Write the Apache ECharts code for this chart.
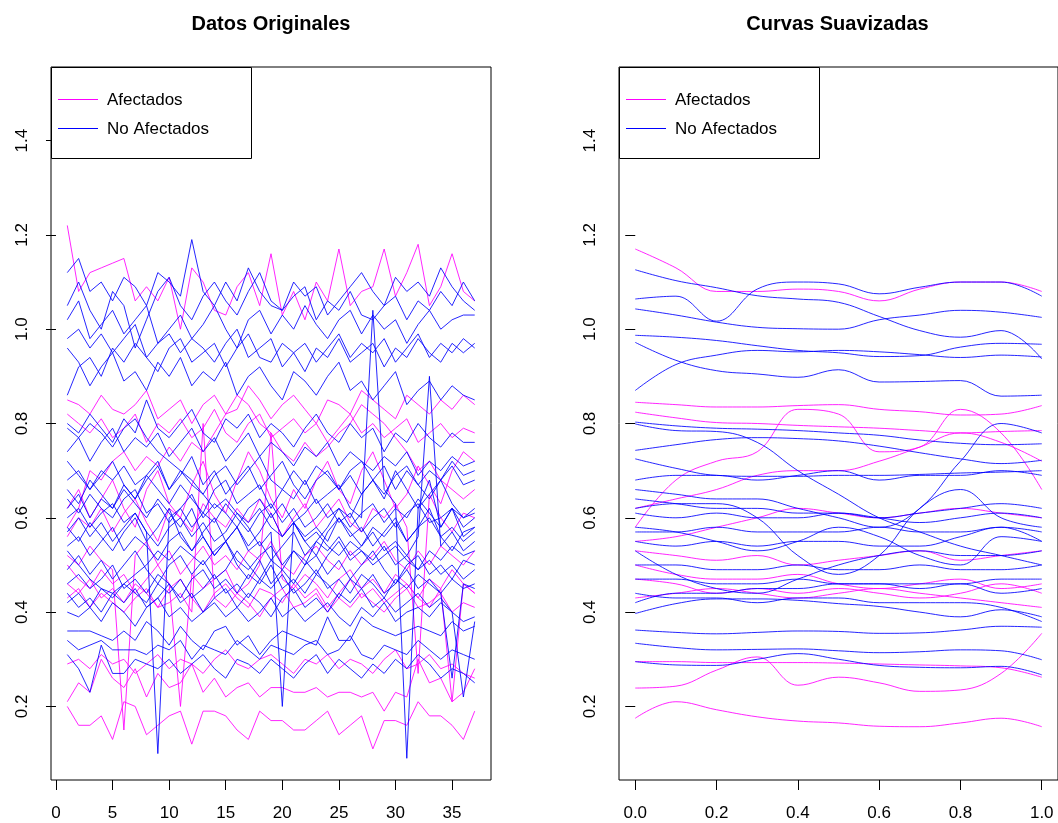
<!DOCTYPE html>
<html><head><meta charset="utf-8">
<script src="https://cdn.jsdelivr.net/npm/echarts@6/dist/echarts.min.js"></script>
<style>html,body{margin:0;padding:0;background:#fff}#c{width:1058px;height:823px}</style>
</head><body><div id="c"></div><script>
// ---- axes / ticks ----
const xOrig = [1,2,3,4,5,6,7,8,9,10,11,12,13,14,15,16,17,18,19,20,21,22,23,24,25,26,27,28,29,30,31,32,33,34,35,36,37];
const tSmooth = [0,0.1,0.2,0.3,0.4,0.5,0.6,0.7,0.8,0.9,1.0];
const xTicksLeft = [0,5,10,15,20,25,30,35];
const xTicksRight = [0,0.2,0.4,0.6,0.8,1.0];
const yTicks = [0.2,0.4,0.6,0.8,1.0,1.2,1.4];
const titles = ['Datos Originales','Curvas Suavizadas'];
const legendNames = ['Afectados','No Afectados'];

// ---- Datos Originales: Afectados (magenta) ----
const oA01 = [1.22,1.08,1.12,1.13,1.14,1.15,1.06,1.09,1.06,1.11,1.00,1.13,1.10,1.04,1.03,1.09,1.12,1.05,1.16,1.03,1.08,1.02,1.10,1.06,1.17,1.05,1.08,1.09,1.17,1.07,1.12,1.18,1.05,1.09,1.16,1.08,1.06];
const oA02 = [0.85,0.84,0.82,0.86,0.83,0.82,0.84,0.87,0.81,0.83,0.85,0.80,0.84,0.86,0.82,0.83,0.88,0.85,0.81,0.84,0.86,0.83,0.80,0.85,0.84,0.82,0.87,0.85,0.83,0.81,0.86,0.84,0.82,0.85,0.83,0.86,0.84];
const oA03 = [0.82,0.80,0.78,0.81,0.77,0.79,0.82,0.76,0.80,0.78,0.81,0.77,0.79,0.83,0.78,0.76,0.80,0.82,0.77,0.79,0.81,0.78,0.80,0.76,0.79,0.82,0.78,0.80,0.77,0.79,0.81,0.76,0.78,0.80,0.77,0.79,0.78];
const oA04 = [0.58,0.62,0.70,0.68,0.72,0.74,0.70,0.73,0.71,0.75,0.72,0.76,0.74,0.78,0.82,0.86,0.84,0.80,0.78,0.74,0.72,0.76,0.73,0.75,0.78,0.80,0.84,0.82,0.80,0.77,0.74,0.70,0.72,0.68,0.66,0.64,0.66];
const oA05 = [0.62,0.66,0.60,0.64,0.68,0.62,0.58,0.66,0.70,0.63,0.60,0.67,0.72,0.65,0.61,0.68,0.74,0.70,0.64,0.60,0.66,0.62,0.68,0.72,0.66,0.63,0.70,0.74,0.68,0.62,0.65,0.71,0.67,0.63,0.70,0.74,0.72];
const oA06 = [0.56,0.60,0.58,0.62,0.57,0.61,0.64,0.59,0.55,0.62,0.60,0.57,0.63,0.60,0.58,0.62,0.59,0.64,0.61,0.56,0.60,0.63,0.58,0.61,0.64,0.59,0.57,0.62,0.60,0.63,0.58,0.27,0.65,0.60,0.57,0.61,0.60];
const oA07 = [0.52,0.50,0.54,0.51,0.49,0.15,0.52,0.55,0.50,0.53,0.48,0.51,0.54,0.50,0.52,0.49,0.53,0.51,0.55,0.50,0.48,0.52,0.54,0.51,0.49,0.53,0.50,0.52,0.55,0.51,0.49,0.53,0.50,0.54,0.52,0.50,0.53];
const oA08 = [0.50,0.47,0.45,0.49,0.46,0.48,0.44,0.47,0.50,0.46,0.20,0.48,0.45,0.47,0.49,0.44,0.46,0.50,0.78,0.47,0.45,0.48,0.46,0.43,0.47,0.49,0.45,0.47,0.44,0.48,0.46,0.43,0.47,0.45,0.49,0.46,0.44];
const oA09 = [0.46,0.44,0.47,0.43,0.45,0.42,0.46,0.44,0.41,0.45,0.47,0.43,0.40,0.44,0.46,0.43,0.41,0.45,0.44,0.42,0.46,0.43,0.45,0.41,0.44,0.47,0.43,0.45,0.42,0.44,0.46,0.43,0.41,0.45,0.21,0.46,0.44];
const oA10 = [0.43,0.45,0.41,0.44,0.42,0.40,0.43,0.45,0.41,0.42,0.44,0.40,0.80,0.43,0.41,0.44,0.42,0.39,0.43,0.45,0.41,0.42,0.44,0.40,0.43,0.41,0.44,0.42,0.40,0.43,0.45,0.41,0.42,0.44,0.40,0.42,0.41];
const oA11 = [0.29,0.30,0.28,0.31,0.29,0.30,0.27,0.29,0.31,0.28,0.30,0.29,0.27,0.30,0.32,0.29,0.28,0.30,0.31,0.29,0.27,0.30,0.29,0.31,0.28,0.30,0.29,0.27,0.30,0.32,0.28,0.29,0.31,0.28,0.29,0.27,0.26];
const oA12 = [0.21,0.25,0.23,0.30,0.26,0.24,0.28,0.22,0.27,0.24,0.25,0.29,0.23,0.26,0.22,0.24,0.25,0.22,0.24,0.24,0.23,0.23,0.24,0.22,0.23,0.23,0.22,0.23,0.19,0.23,0.22,0.30,0.25,0.26,0.21,0.23,0.28];
const oA13 = [0.20,0.16,0.16,0.18,0.13,0.21,0.20,0.14,0.16,0.18,0.19,0.12,0.19,0.19,0.18,0.15,0.13,0.19,0.17,0.17,0.15,0.15,0.17,0.19,0.14,0.16,0.18,0.11,0.17,0.17,0.16,0.21,0.18,0.18,0.16,0.13,0.19];

// ---- Datos Originales: No Afectados (blue) ----
const oN01 = [1.12,1.15,1.08,1.10,1.06,1.11,1.09,1.05,1.12,1.10,1.07,1.19,1.08,1.05,1.10,1.06,1.13,1.08,1.05,1.04,1.07,1.09,1.02,1.06,1.04,1.08,1.03,1.02,1.05,1.07,1.02,1.06,1.04,1.08,1.05,1.10,1.06];
const oN02 = [1.05,1.10,1.04,1.00,1.08,1.05,0.96,1.02,1.08,1.11,1.05,1.02,1.07,1.10,1.06,1.03,1.08,1.12,1.06,1.04,1.10,1.07,1.09,1.03,1.06,1.09,1.12,1.08,1.05,1.11,1.08,1.10,1.07,1.13,1.09,1.06,1.04];
const oN03 = [1.02,1.06,0.98,1.01,1.04,0.99,1.02,1.05,0.97,1.00,1.03,0.98,1.01,1.05,1.00,0.96,1.02,1.04,0.99,1.03,1.00,1.05,1.01,0.98,1.02,1.04,0.99,1.03,1.00,1.02,0.97,1.01,1.04,1.00,1.02,1.03,1.03];
const oN04 = [0.98,1.00,0.96,0.99,0.95,0.98,1.01,0.94,0.97,0.99,0.95,0.98,0.96,0.93,0.97,1.00,0.94,0.96,0.98,0.92,0.95,0.97,0.93,0.96,0.99,0.94,0.97,0.95,0.98,0.93,0.96,0.99,0.94,0.97,0.95,0.98,0.96];
const oN05 = [0.96,0.93,0.88,0.92,0.95,0.89,0.91,0.87,0.93,0.90,0.94,0.88,0.91,0.89,0.93,0.86,0.90,0.92,0.88,0.85,0.91,0.89,0.86,0.90,0.93,0.87,0.89,0.85,0.88,0.91,0.84,0.87,0.89,0.85,0.88,0.86,0.85];
const oN06 = [0.86,0.92,0.94,0.90,0.96,0.93,0.97,0.94,0.91,0.96,0.98,0.93,0.95,0.97,0.92,0.96,0.99,0.94,0.93,0.97,0.95,0.91,0.96,0.94,0.98,0.93,0.95,0.97,0.92,0.96,0.94,0.98,0.95,0.93,0.97,0.95,0.97];
const oN07 = [0.80,0.78,0.82,0.79,0.76,0.81,0.78,0.85,0.79,0.77,0.80,0.83,0.78,0.76,0.81,0.79,0.82,0.77,0.80,0.78,0.75,0.79,0.82,0.78,0.76,0.80,0.77,0.79,0.74,0.78,0.76,0.80,0.77,0.75,0.78,0.76,0.76];
const oN08 = [0.79,0.77,0.80,0.78,0.75,0.79,0.81,0.77,0.74,0.72,0.70,0.67,0.65,0.62,0.64,0.61,0.59,0.62,0.58,0.56,0.59,0.55,0.57,0.54,0.52,0.55,0.53,0.51,0.54,0.50,0.52,0.49,0.51,0.48,0.50,0.47,0.49];
const oN09 = [0.74,0.77,0.72,0.76,0.79,0.74,0.77,0.75,0.78,0.73,0.76,0.79,0.74,0.77,0.72,0.75,0.78,0.73,0.76,0.74,0.71,0.75,0.73,0.76,0.71,0.74,0.72,0.70,0.73,0.71,0.74,0.69,0.72,0.70,0.73,0.71,0.72];
const oN10 = [0.72,0.69,0.66,0.70,0.68,0.71,0.67,0.69,0.72,0.66,0.70,0.68,0.65,0.69,0.71,0.67,0.70,0.73,0.68,0.66,0.70,0.67,0.71,0.69,0.66,0.70,0.72,0.68,0.65,0.69,0.71,0.67,0.70,0.68,0.72,0.69,0.70];
const oN11 = [0.66,0.63,0.68,0.65,0.62,0.67,0.64,0.69,0.66,0.63,0.67,0.64,0.61,0.66,0.68,0.63,0.65,0.67,0.62,0.66,0.64,0.68,0.63,0.65,0.67,0.62,0.60,1.04,0.66,0.63,0.09,0.62,0.65,0.68,0.63,0.60,0.62];
const oN12 = [0.64,0.61,0.65,0.62,0.60,0.64,0.66,0.61,0.63,0.59,0.62,0.65,0.60,0.63,0.61,0.58,0.62,0.64,0.60,0.63,0.59,0.61,0.64,0.60,0.62,0.58,0.61,0.63,0.59,0.62,0.60,0.64,0.61,0.58,0.62,0.60,0.61];
const oN13 = [0.60,0.62,0.58,0.61,0.63,0.59,0.61,0.57,0.10,0.60,0.62,0.58,0.61,0.59,0.63,0.60,0.57,0.61,0.63,0.59,0.62,0.58,0.60,0.63,0.59,0.61,0.57,0.60,0.62,0.58,0.61,0.63,0.59,0.60,0.62,0.58,0.60];
const oN14 = [0.57,0.60,0.56,0.59,0.55,0.58,0.61,0.57,0.54,0.58,0.60,0.56,0.59,0.55,0.57,0.61,0.58,0.54,0.57,0.20,0.59,0.56,0.58,0.55,0.60,0.57,0.54,0.58,0.56,0.59,0.55,0.58,0.60,0.56,0.58,0.55,0.57];
const oN15 = [0.54,0.56,0.52,0.55,0.58,0.53,0.56,0.54,0.51,0.55,0.57,0.53,0.56,0.52,0.55,0.58,0.53,0.55,0.51,0.54,0.57,0.52,0.55,0.53,0.56,0.52,0.54,0.57,0.53,0.55,0.52,0.56,0.90,0.54,0.57,0.53,0.55];
const oN16 = [0.53,0.50,0.47,0.45,0.44,0.46,0.48,0.50,0.53,0.51,0.54,0.52,0.50,0.53,0.55,0.51,0.49,0.52,0.54,0.50,0.53,0.51,0.48,0.52,0.55,0.51,0.53,0.50,0.52,0.54,0.51,0.49,0.53,0.51,0.54,0.52,0.53];
const oN17 = [0.49,0.52,0.48,0.51,0.47,0.50,0.53,0.49,0.46,0.50,0.52,0.48,0.51,0.47,0.49,0.53,0.50,0.47,0.51,0.49,0.46,0.50,0.52,0.48,0.51,0.47,0.50,0.53,0.49,0.46,0.50,0.52,0.48,0.50,0.47,0.51,0.50];
const oN18 = [0.46,0.48,0.45,0.47,0.50,0.45,0.47,0.44,0.48,0.46,0.43,0.47,0.49,0.45,0.47,0.44,0.48,0.46,0.50,0.45,0.47,0.44,0.48,0.46,0.43,0.47,0.45,0.48,0.44,0.46,0.49,0.45,0.47,0.44,0.26,0.46,0.45];
const oN19 = [0.42,0.44,0.41,0.45,0.43,0.46,0.44,0.42,0.46,0.44,0.47,0.43,0.45,0.48,0.44,0.46,0.43,0.47,0.45,0.48,0.44,0.46,0.49,0.45,0.47,0.44,0.48,0.46,0.43,0.47,0.45,0.48,0.46,0.44,0.47,0.45,0.46];
const oN20 = [0.44,0.41,0.43,0.40,0.44,0.42,0.45,0.41,0.43,0.46,0.42,0.44,0.40,0.43,0.45,0.41,0.44,0.42,0.39,0.43,0.45,0.41,0.43,0.40,0.44,0.42,0.45,0.41,0.43,0.40,0.42,0.44,0.41,0.43,0.40,0.22,0.38];
const oN21 = [0.40,0.39,0.41,0.38,0.42,0.40,0.37,0.41,0.43,0.39,0.41,0.38,0.40,0.42,0.39,0.41,0.38,0.40,0.43,0.39,0.41,0.38,0.40,0.42,0.39,0.37,0.41,0.39,0.42,0.38,0.40,0.41,0.39,0.42,0.40,0.38,0.39];
const oN22 = [0.36,0.36,0.36,0.35,0.34,0.36,0.34,0.38,0.36,0.33,0.37,0.34,0.32,0.36,0.37,0.33,0.35,0.31,0.34,0.36,0.35,0.34,0.33,0.39,0.34,0.34,0.39,0.37,0.36,0.35,0.36,0.37,0.36,0.35,0.38,0.36,0.37];
const oN23 = [0.34,0.32,0.33,0.34,0.32,0.32,0.32,0.31,0.33,0.32,0.34,0.30,0.33,0.32,0.31,0.34,0.32,0.30,0.33,0.32,0.31,0.33,0.34,0.31,0.32,0.35,0.31,0.30,0.33,0.32,0.31,0.34,0.32,0.30,0.32,0.31,0.30];
const oN24 = [0.31,0.28,0.23,0.33,0.27,0.27,0.30,0.29,0.28,0.30,0.27,0.29,0.31,0.28,0.26,0.30,0.29,0.27,0.30,0.28,0.26,0.29,0.31,0.27,0.30,0.28,0.26,0.29,0.27,0.30,0.28,0.31,0.29,0.26,0.28,0.27,0.25];
const oN25 = [0.68,0.70,0.66,0.69,0.72,0.67,0.64,0.68,0.71,0.66,0.69,0.73,0.67,0.70,0.65,0.68,0.71,0.66,0.69,0.72,0.67,0.64,0.68,0.70,0.66,0.69,0.65,0.68,0.71,0.66,0.70,0.67,0.64,0.68,0.71,0.67,0.68];
const oN26 = [0.58,0.55,0.59,0.56,0.53,0.57,0.60,0.55,0.58,0.62,0.56,0.53,0.57,0.60,0.55,0.58,0.54,0.57,0.61,0.56,0.59,0.55,0.52,0.57,0.60,0.56,0.58,0.54,0.57,0.60,0.55,0.58,0.62,0.56,0.53,0.57,0.58];
const oN27 = [0.62,0.65,0.60,0.64,0.62,0.66,0.63,0.60,0.64,0.61,0.58,0.62,0.56,0.52,0.55,0.50,0.47,0.51,0.46,0.49,0.53,0.50,0.55,0.58,0.62,0.60,0.65,0.68,0.64,0.70,0.66,0.62,0.68,0.58,0.62,0.56,0.58];

// ---- Curvas Suavizadas: Afectados (magenta), sampled at tSmooth ----
const sA01 = [1.17,1.13,1.08,1.08,1.085,1.08,1.06,1.085,1.10,1.10,1.08];
const sA02 = [0.845,0.840,0.835,0.835,0.838,0.840,0.830,0.825,0.818,0.820,0.838];
const sA03 = [0.824,0.812,0.802,0.800,0.796,0.793,0.790,0.785,0.780,0.783,0.785];
const sA04 = [0.58,0.68,0.72,0.74,0.83,0.82,0.74,0.75,0.83,0.78,0.66];
const sA05 = [0.62,0.64,0.66,0.69,0.70,0.70,0.72,0.75,0.78,0.76,0.72];
const sA06 = [0.55,0.56,0.58,0.60,0.62,0.61,0.60,0.61,0.62,0.61,0.60];
const sA07 = [0.53,0.52,0.51,0.52,0.50,0.51,0.52,0.53,0.51,0.52,0.53];
const sA08 = [0.50,0.48,0.47,0.47,0.48,0.46,0.45,0.46,0.47,0.45,0.46];
const sA09 = [0.47,0.46,0.44,0.45,0.44,0.45,0.44,0.43,0.44,0.46,0.44];
const sA10 = [0.43,0.44,0.45,0.44,0.43,0.44,0.45,0.44,0.43,0.42,0.41];
const sA11 = [0.295,0.295,0.293,0.293,0.293,0.292,0.290,0.288,0.286,0.282,0.262];
const sA12 = [0.239,0.243,0.277,0.305,0.245,0.262,0.250,0.232,0.235,0.270,0.355];
const sA13 = [0.175,0.210,0.193,0.178,0.169,0.165,0.158,0.157,0.165,0.175,0.157];

// ---- Curvas Suavizadas: No Afectados (blue) ----
const sN01 = [1.126,1.103,1.088,1.071,1.064,1.057,1.027,0.997,0.983,0.997,0.937];
const sN02 = [1.064,1.070,1.017,1.085,1.100,1.096,1.075,1.089,1.100,1.100,1.070];
const sN03 = [1.043,1.030,1.015,1.004,1.001,1.000,1.020,1.030,1.040,1.036,1.025];
const sN04 = [0.987,0.983,0.976,0.965,0.955,0.950,0.942,0.944,0.962,0.970,0.968];
const sN05 = [0.972,0.934,0.912,0.905,0.898,0.914,0.888,0.889,0.891,0.858,0.860];
const sN06 = [0.870,0.925,0.945,0.955,0.952,0.955,0.952,0.946,0.940,0.945,0.941];
const sN07 = [0.803,0.795,0.790,0.788,0.785,0.780,0.775,0.765,0.758,0.755,0.757];
const sN08 = [0.799,0.785,0.783,0.760,0.700,0.650,0.600,0.570,0.540,0.520,0.500];
const sN09 = [0.743,0.755,0.766,0.770,0.768,0.763,0.752,0.738,0.725,0.715,0.722];
const sN10 = [0.725,0.705,0.690,0.688,0.688,0.690,0.690,0.692,0.695,0.697,0.700];
const sN11 = [0.66,0.65,0.64,0.64,0.62,0.60,0.58,0.62,0.72,0.80,0.78];
const sN12 = [0.64,0.63,0.62,0.62,0.61,0.61,0.60,0.61,0.62,0.63,0.62];
const sN13 = [0.61,0.60,0.61,0.60,0.60,0.61,0.60,0.59,0.60,0.61,0.60];
const sN14 = [0.58,0.57,0.55,0.53,0.55,0.58,0.56,0.52,0.50,0.56,0.55];
const sN15 = [0.55,0.54,0.55,0.54,0.55,0.55,0.54,0.54,0.56,0.58,0.55];
const sN16 = [0.53,0.48,0.45,0.44,0.47,0.50,0.52,0.53,0.52,0.52,0.53];
const sN17 = [0.50,0.50,0.49,0.49,0.50,0.49,0.49,0.50,0.49,0.49,0.50];
const sN18 = [0.47,0.47,0.46,0.46,0.47,0.46,0.46,0.45,0.46,0.44,0.45];
const sN19 = [0.42,0.44,0.44,0.45,0.45,0.46,0.46,0.46,0.46,0.47,0.47];
const sN20 = [0.44,0.43,0.43,0.42,0.43,0.43,0.42,0.42,0.42,0.41,0.38];
const sN21 = [0.397,0.418,0.428,0.428,0.425,0.418,0.412,0.400,0.390,0.405,0.390];
const sN22 = [0.362,0.357,0.354,0.357,0.360,0.359,0.355,0.356,0.362,0.370,0.368];
const sN23 = [0.334,0.325,0.320,0.321,0.322,0.318,0.314,0.316,0.320,0.318,0.299];
const sN24 = [0.295,0.288,0.287,0.300,0.312,0.300,0.287,0.283,0.282,0.285,0.267];
const sN25 = [0.68,0.69,0.69,0.68,0.69,0.70,0.68,0.69,0.69,0.70,0.69];
const sN26 = [0.57,0.57,0.58,0.57,0.57,0.57,0.58,0.57,0.57,0.58,0.57];
const sN27 = [0.62,0.63,0.63,0.60,0.52,0.48,0.52,0.62,0.66,0.60,0.58];

const origAfect = [oA01,oA02,oA03,oA04,oA05,oA06,oA07,oA08,oA09,oA10,oA11,oA12,oA13];
const origNoAfect = [oN01,oN02,oN03,oN04,oN05,oN06,oN07,oN08,oN09,oN10,oN11,oN12,oN13,oN14,oN15,oN16,oN17,oN18,oN19,oN20,oN21,oN22,oN23,oN24,oN25,oN26,oN27];
const smAfect = [sA01,sA02,sA03,sA04,sA05,sA06,sA07,sA08,sA09,sA10,sA11,sA12,sA13];
const smNoAfect = [sN01,sN02,sN03,sN04,sN05,sN06,sN07,sN08,sN09,sN10,sN11,sN12,sN13,sN14,sN15,sN16,sN17,sN18,sN19,sN20,sN21,sN22,sN23,sN24,sN25,sN26,sN27];

const MAG = '#ff00ff', BLU = '#0000ff';
const FONT = '"Liberation Sans", Arial, sans-serif';

function mk(arr, xs, color, idx, smooth) {
  return {
    type: 'line', xAxisIndex: idx, yAxisIndex: idx,
    data: xs.map((x, i) => [x, arr[i]]),
    symbol: 'none', showSymbol: false, smooth: smooth,
    lineStyle: { color: color, width: 1, opacity: 0.85 },
    silent: true, animation: false, clip: true
  };
}
const series = [];
origAfect.forEach(a => series.push(mk(a, xOrig, MAG, 0, false)));
origNoAfect.forEach(a => series.push(mk(a, xOrig, BLU, 0, false)));
smAfect.forEach(a => series.push(mk(a, tSmooth, MAG, 1, 0.4)));
smNoAfect.forEach(a => series.push(mk(a, tSmooth, BLU, 1, 0.4)));

const GRIDS = [{left: 51, top: 67, width: 440, height: 713}, {left: 619, top: 67, width: 439, height: 713}];

function xAx(idx, min, max, ticks, fmt) {
  return {
    gridIndex: idx, type: 'value', min: min, max: max,
    axisLine: { show: false }, splitLine: { show: false },
    axisTick: { show: true, customValues: ticks, length: 10, lineStyle: { color: '#000', width: 1 } },
    axisLabel: { customValues: ticks, margin: 25, fontSize: 17, color: '#000', fontFamily: FONT, formatter: fmt }
  };
}
function yAx(idx) {
  return {
    gridIndex: idx, type: 'value', min: 0.044, max: 1.556,
    axisLine: { show: false }, splitLine: { show: false },
    axisTick: { show: true, customValues: yTicks, length: 10, lineStyle: { color: '#000', width: 1 } },
    axisLabel: { customValues: yTicks, rotate: 90, margin: 20, fontSize: 17, color: '#000', fontFamily: FONT,
      formatter: v => v.toFixed(1) }
  };
}

const graphic = [];
GRIDS.forEach((g, i) => {
  graphic.push({ type: 'text', x: g.left + g.width / 2 - (i === 1 ? 1 : 0), y: 24,
    style: { text: titles[i], font: 'bold 20px ' + FONT, fill: '#000', textAlign: 'center', textVerticalAlign: 'middle' } });
  const lx = g.left;
  graphic.push({ type: 'rect', shape: { x: lx + 0.5, y: 67.5, width: 200, height: 91 },
    style: { fill: '#fff', stroke: '#000', lineWidth: 1 }, z: 10 });
  [MAG, BLU].forEach((c, k) => {
    const yy = 99.5 + k * 29;
    graphic.push({ type: 'line', shape: { x1: lx + 7, y1: yy, x2: lx + 47, y2: yy }, style: { stroke: c, lineWidth: 1 }, z: 11 });
    graphic.push({ type: 'text', x: lx + 56, y: yy + 1,
      style: { text: legendNames[k], font: '17px ' + FONT, fill: '#000', textVerticalAlign: 'middle' }, z: 11 });
  });
});

const chart = echarts.init(document.getElementById('c'), null, { renderer: 'canvas' });
chart.setOption({
  backgroundColor: '#fff',
  animation: false,
  grid: GRIDS.map(g => Object.assign({ show: true, borderColor: '#000', borderWidth: 1, backgroundColor: 'transparent' }, g)),
  xAxis: [xAx(0, -0.44, 38.44, xTicksLeft, v => String(v)), xAx(1, -0.04, 1.04, xTicksRight, v => v.toFixed(1))],
  yAxis: [yAx(0), yAx(1)],
  series: series,
  graphic: graphic
});
</script></body></html>
